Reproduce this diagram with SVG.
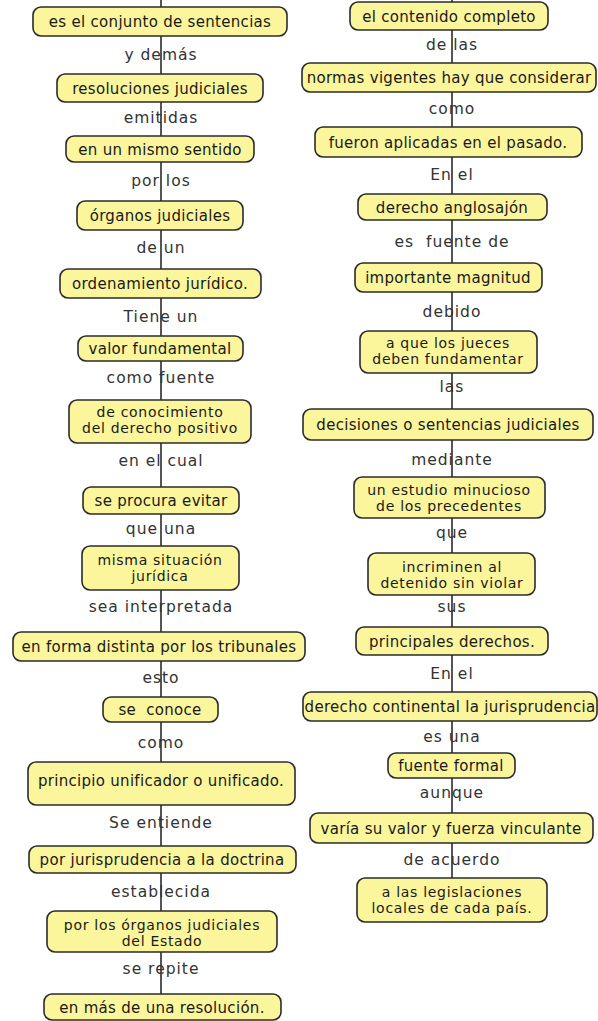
<svg xmlns="http://www.w3.org/2000/svg" width="598" height="1021" viewBox="0 0 598 1021">
<style>
.n{fill:#fbf59b;stroke:#2b2b2b;stroke-width:1.6}
.t{font-family:"DejaVu Sans",Verdana,sans-serif;font-size:15px;fill:#1a1a1a;text-anchor:middle;letter-spacing:0.3px;white-space:pre}
.m{font-family:"DejaVu Sans",Verdana,sans-serif;font-size:14px;fill:#1a1a1a;text-anchor:middle;letter-spacing:0.7px;white-space:pre}
.l{font-family:"DejaVu Sans",Verdana,sans-serif;font-size:15.5px;fill:#333;text-anchor:middle;letter-spacing:1px;white-space:pre}
.c{stroke:#555;stroke-width:2;fill:none}
</style>
<rect width="598" height="1021" fill="#fff"/>
<g id="connectors">
<line class="c" x1="161" y1="0" x2="161" y2="994"/>
<line class="c" x1="452" y1="0" x2="452" y2="878"/>
</g>
<g id="labels">
<text class="l" x="161" y="60">y demás</text>
<text class="l" x="161" y="123">emitidas</text>
<text class="l" x="161" y="186">por los</text>
<text class="l" x="161" y="253">de un</text>
<text class="l" x="161" y="322">Tiene un</text>
<text class="l" x="161" y="383">como fuente</text>
<text class="l" x="161" y="466">en el cual</text>
<text class="l" x="161" y="534">que una</text>
<text class="l" x="161" y="612">sea interpretada</text>
<text class="l" x="161" y="683">esto</text>
<text class="l" x="161" y="748">como</text>
<text class="l" x="161" y="828">Se entiende</text>
<text class="l" x="161" y="897">establecida</text>
<text class="l" x="161" y="974">se repite</text>
<text class="l" x="452" y="50">de las</text>
<text class="l" x="452" y="114">como</text>
<text class="l" x="452" y="180">En el</text>
<text class="l" x="452" y="247">es  fuente de</text>
<text class="l" x="452" y="317">debido</text>
<text class="l" x="452" y="392">las</text>
<text class="l" x="452" y="465">mediante</text>
<text class="l" x="452" y="538">que</text>
<text class="l" x="452" y="612">sus</text>
<text class="l" x="452" y="679">En el</text>
<text class="l" x="452" y="742">es una</text>
<text class="l" x="452" y="798">aunque</text>
<text class="l" x="452" y="865">de acuerdo</text>
</g>
<g id="L1"><rect class="n" x="33" y="7" width="254" height="29" rx="8"/><text class="t" x="160" y="26.5">es el conjunto de sentencias</text></g>
<g id="L2"><rect class="n" x="57" y="74" width="206" height="28" rx="8"/><text class="t" x="160" y="93.5">resoluciones judiciales</text></g>
<g id="L3"><rect class="n" x="66" y="136" width="188" height="26" rx="8"/><text class="t" x="160" y="154.5">en un mismo sentido</text></g>
<g id="L4"><rect class="n" x="77" y="201" width="166" height="29" rx="8"/><text class="t" x="160" y="220.5">órganos judiciales</text></g>
<g id="L5"><rect class="n" x="60" y="269" width="201" height="29" rx="8"/><text class="t" x="160" y="288.5">ordenamiento jurídico.</text></g>
<g id="L6"><rect class="n" x="78" y="336" width="165" height="25" rx="8"/><text class="t" x="160" y="354">valor fundamental</text></g>
<g id="L7"><rect class="n" x="69" y="400" width="182" height="43" rx="8"/><text class="m" x="160" y="416.5">de conocimiento</text><text class="m" x="160" y="433">del derecho positivo</text></g>
<g id="L8"><rect class="n" x="83" y="487" width="156" height="27" rx="8"/><text class="t" x="161" y="505.5">se procura evitar</text></g>
<g id="L9"><rect class="n" x="82" y="546" width="157" height="44" rx="8"/><text class="m" x="160" y="564.5">misma situación</text><text class="m" x="160" y="581">jurídica</text></g>
<g id="L10"><rect class="n" x="13" y="632" width="292" height="29" rx="8"/><text class="t" x="159" y="651.5">en forma distinta por los tribunales</text></g>
<g id="L11"><rect class="n" x="103" y="697" width="115" height="25" rx="8"/><text class="t" x="160" y="714.5">se  conoce</text></g>
<g id="L12"><rect class="n" x="28" y="762" width="267" height="43" rx="8"/><text class="t" x="161" y="786">principio unificador o unificado.</text></g>
<g id="L13"><rect class="n" x="29" y="846" width="267" height="27" rx="8"/><text class="t" x="162" y="864.5">por jurisprudencia a la doctrina</text></g>
<g id="L14"><rect class="n" x="47" y="911" width="230" height="41" rx="8"/><text class="m" x="162" y="929.5">por los órganos judiciales</text><text class="m" x="162" y="946">del Estado</text></g>
<g id="L15"><rect class="n" x="44" y="994" width="237" height="26" rx="8"/><text class="t" x="162" y="1012.5">en más de una resolución.</text></g>
<g id="R1"><rect class="n" x="350" y="2" width="198" height="28" rx="8"/><text class="t" x="449" y="22">el contenido completo</text></g>
<g id="R2"><rect class="n" x="302" y="63" width="294" height="29" rx="8"/><text class="t" x="449" y="82.5">normas vigentes hay que considerar</text></g>
<g id="R3"><rect class="n" x="315" y="127" width="267" height="30" rx="8"/><text class="t" x="448" y="147.5">fueron aplicadas en el pasado.</text></g>
<g id="R4"><rect class="n" x="358" y="194" width="189" height="26" rx="8"/><text class="t" x="452" y="212.5">derecho anglosajón</text></g>
<g id="R5"><rect class="n" x="355" y="263" width="187" height="29" rx="8"/><text class="t" x="448" y="282.5">importante magnitud</text></g>
<g id="R6"><rect class="n" x="360" y="331" width="177" height="42" rx="8"/><text class="m" x="448" y="347.5">a que los jueces</text><text class="m" x="448" y="364">deben fundamentar</text></g>
<g id="R7"><rect class="n" x="303" y="409" width="290" height="31" rx="8"/><text class="t" x="448" y="429.5">decisiones o sentencias judiciales</text></g>
<g id="R8"><rect class="n" x="354" y="477" width="191" height="41" rx="8"/><text class="m" x="449" y="494.5">un estudio minucioso</text><text class="m" x="449" y="511">de los precedentes</text></g>
<g id="R9"><rect class="n" x="368" y="553" width="167" height="42" rx="8"/><text class="m" x="452" y="571.5">incriminen al</text><text class="m" x="452" y="588">detenido sin violar</text></g>
<g id="R10"><rect class="n" x="356" y="627" width="192" height="28" rx="8"/><text class="t" x="452" y="646.5">principales derechos.</text></g>
<g id="R11"><rect class="n" x="303" y="692" width="294" height="29" rx="8"/><text class="t" x="450" y="711.5">derecho continental la jurisprudencia</text></g>
<g id="R12"><rect class="n" x="388" y="753" width="127" height="25" rx="8"/><text class="t" x="451" y="771">fuente formal</text></g>
<g id="R13"><rect class="n" x="310" y="813" width="283" height="30" rx="8"/><text class="t" x="451" y="833.5">varía su valor y fuerza vinculante</text></g>
<g id="R14"><rect class="n" x="357" y="878" width="190" height="44" rx="8"/><text class="m" x="452" y="896.5">a las legislaciones</text><text class="m" x="452" y="913">locales de cada país.</text></g>
</svg>
